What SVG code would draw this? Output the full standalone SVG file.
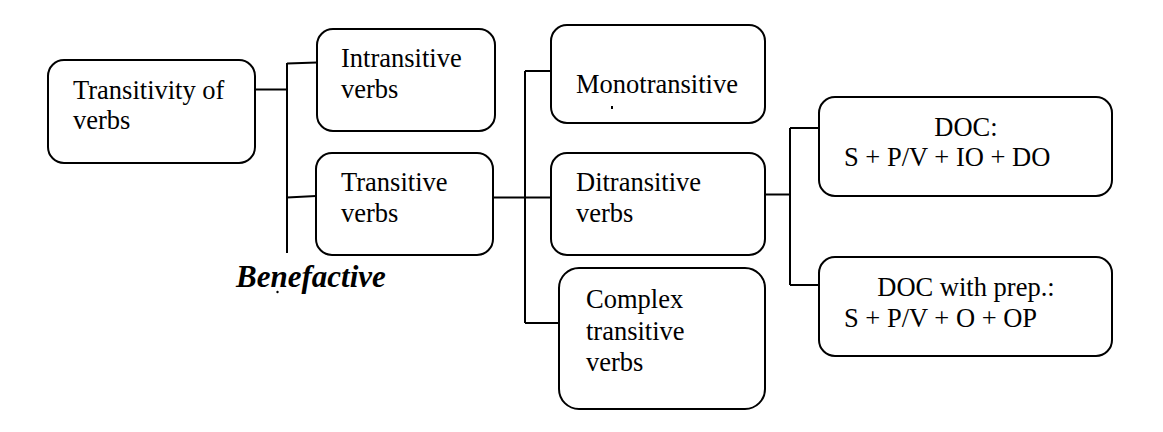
<svg xmlns="http://www.w3.org/2000/svg" width="1163" height="432" viewBox="0 0 1163 432">
<style>
.box{fill:#fff;stroke:#000;stroke-width:2}
.t{font-family:"Liberation Serif",Tinos,"Times New Roman","Nimbus Roman","DejaVu Serif",serif;font-size:26.5px;fill:#000}
.c{text-anchor:middle}
.ln{stroke:#000;stroke-width:2;fill:none}
.b{font-family:"Liberation Serif",Tinos,"Times New Roman","DejaVu Serif",serif;font-size:31px;font-weight:bold;font-style:italic;fill:#000}
</style>
<rect width="1163" height="432" fill="#fff"/>
<g id="connectors">
<line class="ln" x1="255" y1="89.5" x2="287" y2="89.5"/>
<line class="ln" x1="287" y1="63" x2="287" y2="253"/>
<line class="ln" x1="287" y1="63.5" x2="317" y2="62.5"/>
<line class="ln" x1="287" y1="197.5" x2="316" y2="196"/>
<line class="ln" x1="493" y1="197.5" x2="551" y2="197.5"/>
<line class="ln" x1="525" y1="71" x2="525" y2="323"/>
<line class="ln" x1="525" y1="71" x2="551" y2="71"/>
<line class="ln" x1="525" y1="323" x2="559" y2="323"/>
<line class="ln" x1="765" y1="194.5" x2="790" y2="194.5"/>
<line class="ln" x1="790" y1="128" x2="790" y2="285"/>
<line class="ln" x1="790" y1="128" x2="819" y2="128"/>
<line class="ln" x1="790" y1="285" x2="819" y2="285"/>
</g>
<g id="transitivity">
<rect class="box" x="48" y="60" width="207" height="103" rx="16"/>
<text class="t" x="73" y="99" font-family="Liberation Serif, serif">Transitivity of</text>
<text class="t" x="73" y="129">verbs</text>
</g>
<g id="intransitive">
<rect class="box" x="317" y="29" width="178" height="102" rx="16"/>
<text class="t" x="341" y="67">Intransitive</text>
<text class="t" x="341" y="98">verbs</text>
</g>
<g id="transitive">
<rect class="box" x="316" y="153" width="177" height="102" rx="16"/>
<text class="t" x="341" y="191">Transitive</text>
<text class="t" x="341" y="222">verbs</text>
</g>
<g id="benefactive">
<text class="b" x="236" y="287">Benefactive</text>
<circle cx="277.5" cy="292" r="1.2" fill="#000"/>
</g>
<g id="monotransitive">
<rect class="box" x="551" y="25" width="214" height="98" rx="16"/>
<text class="t" x="576" y="93">Monotransitive</text>
<rect x="611" y="106" width="2" height="3" fill="#000"/>
</g>
<g id="ditransitive">
<rect class="box" x="551" y="153" width="214" height="102" rx="16"/>
<text class="t" x="576" y="191">Ditransitive</text>
<text class="t" x="576" y="222">verbs</text>
</g>
<g id="complex">
<rect class="box" x="559" y="268" width="206" height="141" rx="20"/>
<text class="t" x="586" y="308">Complex</text>
<text class="t" x="586" y="340">transitive</text>
<text class="t" x="586" y="371">verbs</text>
</g>
<g id="doc">
<rect class="box" x="819" y="97" width="293" height="99" rx="16"/>
<text class="t c" x="966" y="136">DOC:</text>
<text class="t" x="844" y="166">S + P/V + IO + DO</text>
</g>
<g id="docprep">
<rect class="box" x="819" y="257" width="293" height="99" rx="16"/>
<text class="t c" x="966" y="296">DOC with prep.:</text>
<text class="t" x="844" y="327">S + P/V + O + OP</text>
</g>
</svg>
